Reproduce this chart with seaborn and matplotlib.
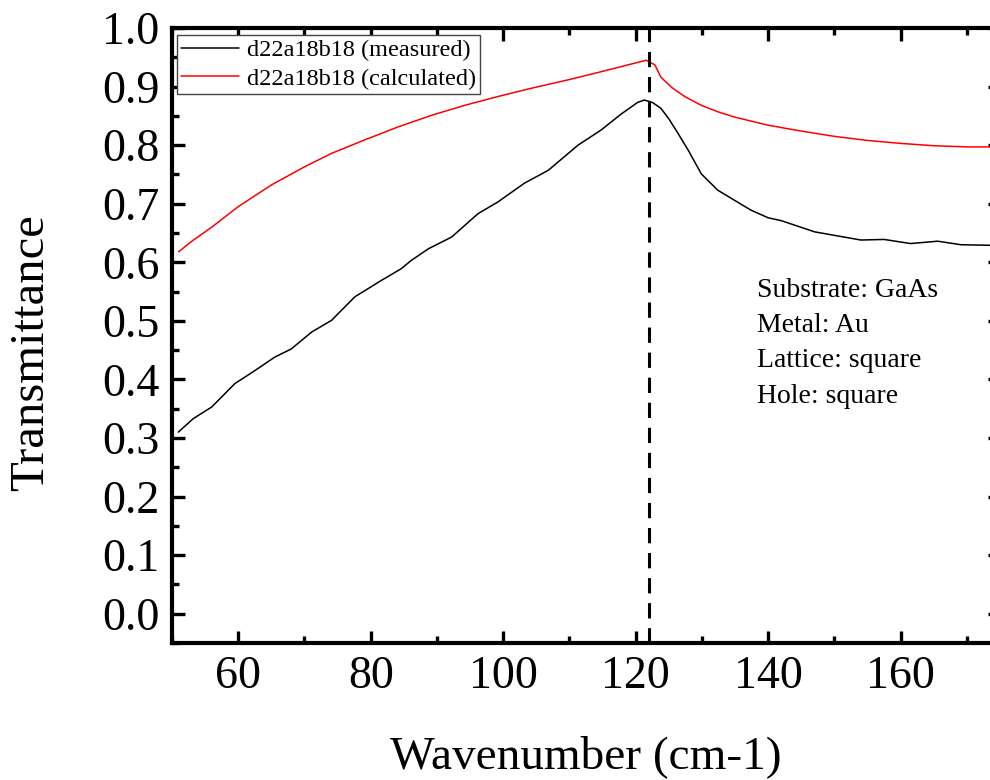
import matplotlib
matplotlib.use("Agg")
import matplotlib.pyplot as plt
import seaborn as sns
import pandas as pd
from matplotlib.ticker import MultipleLocator

# ---- data ----
measured_x = [50.95, 53.2, 56.0, 59.5, 62.5, 65.5, 68.0, 71.1, 74.1, 77.6, 81.6,
              84.6, 86.1, 88.7, 92.2, 96.2, 99.2, 103.2, 106.8, 111.3, 114.8,
              117.8, 120.3, 121.3, 122.5, 123.8, 125.0, 126.4, 128.0, 129.9,
              132.4, 134.9, 137.4, 140.0, 142.0, 147.0, 151.0, 154.0, 157.5,
              161.5, 165.6, 169.1, 173.6]
measured_y = [0.310, 0.333, 0.353, 0.393, 0.415, 0.438, 0.452, 0.481, 0.501,
              0.541, 0.569, 0.589, 0.603, 0.623, 0.643, 0.683, 0.703, 0.735,
              0.757, 0.800, 0.826, 0.853, 0.873, 0.877, 0.873, 0.863, 0.845,
              0.820, 0.790, 0.751, 0.723, 0.706, 0.689, 0.676, 0.671, 0.652,
              0.644, 0.638, 0.639, 0.632, 0.636, 0.630, 0.629]

calc_x = [51.0, 53.0, 56.0, 60.0, 65.0, 70.0, 74.1, 79.1, 84.1, 89.2, 94.2,
          99.2, 104.2, 110.0, 115.0, 121.6, 122.9, 123.8, 125.5, 127.4, 129.9,
          132.4, 134.9, 140.0, 145.0, 150.0, 155.0, 160.0, 165.0, 170.1, 173.6]
calc_y = [0.618, 0.636, 0.660, 0.695, 0.732, 0.763, 0.786, 0.809, 0.831,
          0.851, 0.868, 0.883, 0.897, 0.912, 0.926, 0.945, 0.937, 0.916,
          0.898, 0.883, 0.868, 0.857, 0.848, 0.834, 0.824, 0.815, 0.808,
          0.803, 0.799, 0.797, 0.797]

series_labels = ["d22a18b18 (measured)", "d22a18b18 (calculated)"]
series_colors = ["black", "red"]
peak_x = 122.0
info_lines = ["Substrate: GaAs", "Metal: Au", "Lattice: square", "Hole: square"]
x_ticks = [60, 80, 100, 120, 140, 160]
y_ticks = [0.0, 0.1, 0.2, 0.3, 0.4, 0.5, 0.6, 0.7, 0.8, 0.9, 1.0]

df = pd.concat([
    pd.DataFrame({"x": measured_x, "y": measured_y, "series": series_labels[0]}),
    pd.DataFrame({"x": calc_x, "y": calc_y, "series": series_labels[1]}),
])

sns.set_style("ticks")
plt.rcParams["font.family"] = ["Liberation Serif", "DejaVu Serif"]
for k in ["text.color", "axes.labelcolor", "xtick.color", "ytick.color",
          "axes.edgecolor"]:
    plt.rcParams[k] = "black"

fig = plt.figure(figsize=(9.9, 7.8), dpi=100)
ax = fig.add_axes([172 / 990, 1 - 643 / 780, 828 / 990, 615 / 780])

sns.lineplot(data=df, x="x", y="y", hue="series", sort=False,
             palette=dict(zip(series_labels, series_colors)),
             linewidth=1.1, ax=ax, legend=True)

ax.axvline(peak_x, color="black", linewidth=2.2, linestyle=(0, (5, 3.2)))

ax.set_xlim(50, 175)
ax.set_ylim(-0.05, 1.0)
ax.set_xticks(x_ticks)
ax.set_yticks(y_ticks)
ax.set_yticklabels([f"{v:.1f}" for v in y_ticks])
ax.xaxis.set_minor_locator(MultipleLocator(10))
ax.yaxis.set_minor_locator(MultipleLocator(0.05))

for s in ax.spines.values():
    s.set_linewidth(3.0)
    s.set_color("black")
    s.set_visible(True)

ax.tick_params(which="both", direction="in", top=True, right=True,
               width=2.4, color="black", labelcolor="black")
ax.tick_params(which="major", length=9, labelsize=33)
ax.tick_params(which="minor", length=5)
ax.tick_params(axis="x", which="major", pad=9)
ax.tick_params(axis="y", which="major", pad=9)

ax.set_xlabel("Wavenumber (cm-1)", fontsize=34, labelpad=27)
ax.set_ylabel("Transmittance", fontsize=35)
ax.yaxis.set_label_coords(-0.1435, 0.4715)

leg = ax.legend(loc="upper left", bbox_to_anchor=(0.006, 0.988),
                fontsize=17.5, frameon=True, fancybox=False, shadow=False,
                handlelength=2.4, handletextpad=0.35, labelspacing=0.28,
                borderpad=0.15, borderaxespad=0.0, title=None)
leg.get_frame().set_edgecolor("#444444")
leg.get_frame().set_linewidth(1.0)
leg.get_frame().set_alpha(1.0)
for t in leg.get_texts():
    t.set_color("black")
for ln in leg.get_lines():
    ln.set_linewidth(1.1)

info_y = [0.563, 0.506, 0.448, 0.391]
for txt, yy in zip(info_lines, info_y):
    ax.text(0.707, yy, txt, transform=ax.transAxes, fontsize=20,
            ha="left", va="baseline", color="black")

fig.savefig("out.png", dpi=100)
